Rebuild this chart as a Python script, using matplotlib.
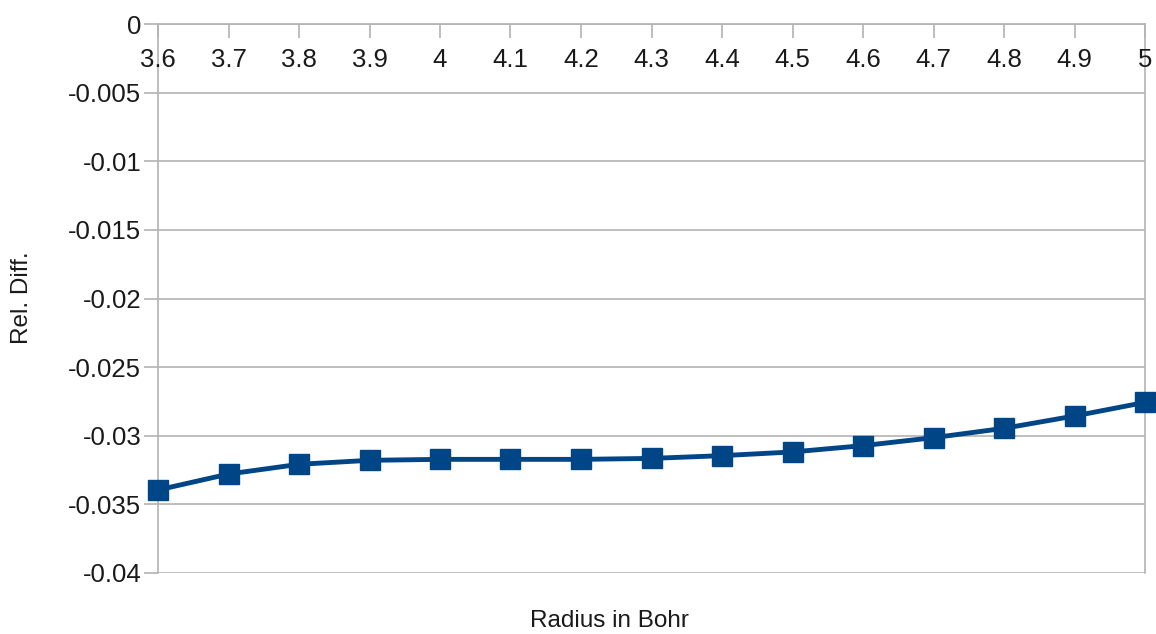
import matplotlib.pyplot as plt

radius = [3.6, 3.7, 3.8, 3.9, 4.0, 4.1, 4.2, 4.3, 4.4, 4.5, 4.6, 4.7, 4.8, 4.9, 5.0]
rel_diff = [-0.03395, -0.03279, -0.03208, -0.03179, -0.03172, -0.03172, -0.03172,
            -0.03165, -0.03145, -0.03118, -0.03072, -0.03014, -0.02946, -0.02856,
            -0.02757]
x_ticks = [3.6, 3.7, 3.8, 3.9, 4.0, 4.1, 4.2, 4.3, 4.4, 4.5, 4.6, 4.7, 4.8, 4.9, 5.0]
x_labels = ["3.6", "3.7", "3.8", "3.9", "4", "4.1", "4.2", "4.3", "4.4", "4.5",
            "4.6", "4.7", "4.8", "4.9", "5"]
y_ticks = [0, -0.005, -0.01, -0.015, -0.02, -0.025, -0.03, -0.035, -0.04]
y_labels = ["0", "-0.005", "-0.01", "-0.015", "-0.02", "-0.025", "-0.03", "-0.035", "-0.04"]

plt.rcParams["font.family"] = ["Liberation Sans", "DejaVu Sans"]
grid_col = "#b3b3b3"
text_col = "#1a1a1a"

fig = plt.figure(figsize=(11.56, 6.34), dpi=100)
ax = fig.add_axes([158 / 1156, 1 - 573 / 634, (1145 - 158) / 1156, (573 - 24) / 634])

ax.plot(radius, rel_diff, color="#004586", linewidth=3.5, marker="s",
        markersize=14, zorder=3, clip_on=False)

ax.set_xlim(3.6, 5.0)
ax.set_ylim(-0.04, 0)
ax.set_xticks(x_ticks)
ax.set_xticklabels(x_labels)
ax.set_yticks(y_ticks)
ax.set_yticklabels(y_labels)

# x axis sits at y = 0 (top), ticks point down into the plot
ax.xaxis.tick_top()
ax.tick_params(axis="x", direction="in", length=10, width=1.2, color=grid_col,
               labeltop=False, labelbottom=False)
for x, lab in zip(x_ticks, x_labels):
    ax.text(x, -0.0026, lab, ha="center", va="center", fontsize=18.5, color=text_col)

ax.tick_params(axis="y", direction="out", length=10, width=1.2, color=grid_col,
               labelsize=18.5, labelcolor=text_col, pad=2)

ax.yaxis.grid(True, color=grid_col, linewidth=1.2)
ax.set_axisbelow(True)
for side in ["left", "right", "top"]:
    ax.spines[side].set_color(grid_col)
    ax.spines[side].set_linewidth(1.2)
ax.spines["bottom"].set_visible(False)

fig.text(22 / 1156, 1 - 298 / 634, "Rel. Diff.", rotation=90, ha="center",
         va="center", fontsize=17.5, color=text_col)
fig.text(609 / 1156, 1 - 621 / 634, "Radius in Bohr", ha="center", va="center",
         fontsize=17.5, color=text_col)

fig.savefig("out.png", dpi=100)
